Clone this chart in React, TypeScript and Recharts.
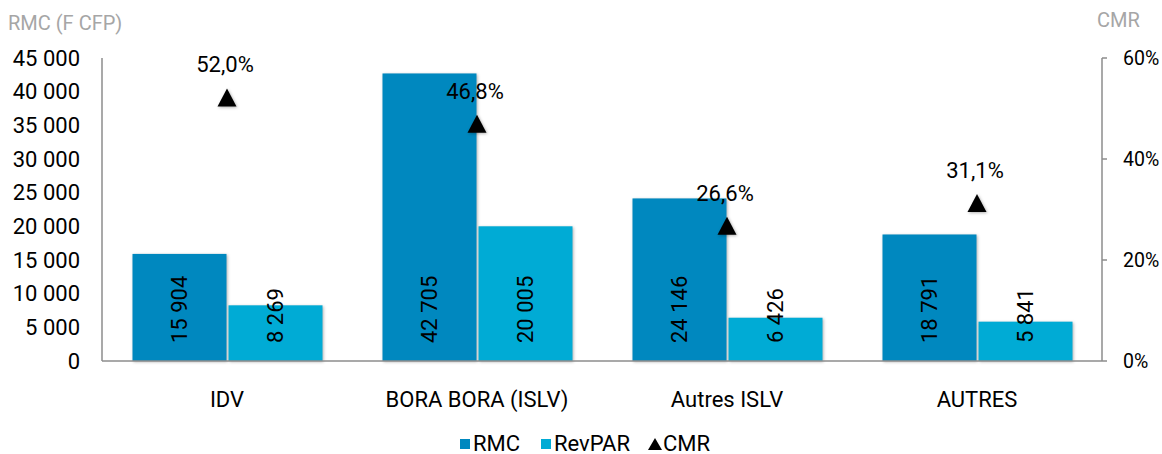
import React from 'react';
import { ComposedChart, Bar, Line, XAxis, YAxis, LabelList, Legend } from 'recharts';

const categories = ['IDV', 'BORA BORA (ISLV)', 'Autres ISLV', 'AUTRES'];
const rmcValues = [15904, 42705, 24146, 18791];
const revparValues = [8269, 20005, 6426, 5841];
const cmrValues = [0.52, 0.468, 0.266, 0.311];
const leftTicks = [0, 5000, 10000, 15000, 20000, 25000, 30000, 35000, 40000, 45000];
const rightTicks = [0, 0.2, 0.4, 0.6];

const data = categories.map((c, i) => ({
  cat: c,
  rmc: rmcValues[i],
  revpar: revparValues[i],
  cmr: cmrValues[i],
}));

const FONT = 'Roboto, "Open Sans", sans-serif';
const AXIS = '#8c8c8c';
const C_RMC = '#0088BF';
const C_REV = '#00ABD5';

const fmtNum = (n: number) => String(Math.round(n)).replace(/\B(?=(\d{3})+(?!\d))/g, ' ');
const fmtPct = (v: number) => (v * 100).toFixed(1).replace('.', ',') + '%';
const fmtTickPct = (v: number) => Math.round(v * 100) + '%';

const BarShape = (p: any) => (
  <rect
    x={p.x}
    y={p.y}
    width={p.width}
    height={p.height}
    fill={p.fill}
    style={{ filter: 'drop-shadow(1.5px 1px 1.5px rgba(0,0,0,0.3))' }}
  />
);

const BarLabel = (p: any) => {
  const { x, y, width, height, value } = p;
  const cx = x + width / 2;
  const by = y + height - 18;
  return (
    <text
      x={cx}
      y={by}
      transform={`rotate(-90 ${cx} ${by})`}
      textAnchor="start"
      dominantBaseline="central"
      fontFamily={FONT}
      fontSize={22}
      fill="#000"
    >
      {fmtNum(value)}
    </text>
  );
};

const Triangle = (p: any) => {
  const { cx, cy } = p;
  if (cx == null || cy == null) return null;
  return (
    <polygon
      points={`${cx},${cy - 10} ${cx + 9.5},${cy + 8} ${cx - 9.5},${cy + 8}`}
      fill="#000"
      style={{ filter: 'drop-shadow(1.5px 1px 1.5px rgba(0,0,0,0.3))' }}
    />
  );
};

const CmrLabel = (p: any) => {
  const { x, y, value } = p;
  return (
    <text x={x - 2} y={y - 26} textAnchor="middle" fontFamily={FONT} fontSize={22} fill="#000">
      {fmtPct(value)}
    </text>
  );
};

const XTick = (p: any) => {
  const { x, y, payload } = p;
  return (
    <text x={x} y={y + 46} textAnchor="middle" fontFamily={FONT} fontSize={22} fill="#000">
      {payload.value}
    </text>
  );
};

const RightTick = (p: any) => {
  const { x, y, payload } = p;
  return (
    <text x={x} y={y} dy="0.36em" textAnchor="start" fontFamily={FONT} fontSize={19.5} fill="#000">
      {fmtTickPct(payload.value)}
    </text>
  );
};

const LegendContent = () => (
  <div
    style={{
      boxSizing: 'border-box',
      height: 30,
      paddingTop: 8,
      paddingLeft: 8,
      display: 'flex',
      justifyContent: 'center',
      alignItems: 'flex-start',
      fontFamily: FONT,
      fontSize: 22,
      lineHeight: '24px',
      color: '#000',
    }}
  >
    <div style={{ display: 'flex', alignItems: 'center', marginRight: 21 }}>
      <span style={{ display: 'inline-block', width: 10, height: 10, background: C_RMC, marginRight: 3 }} />
      <span>RMC</span>
    </div>
    <div style={{ display: 'flex', alignItems: 'center', marginRight: 18 }}>
      <span style={{ display: 'inline-block', width: 10, height: 10, background: C_REV, marginRight: 3 }} />
      <span>RevPAR</span>
    </div>
    <div style={{ display: 'flex', alignItems: 'center' }}>
      <svg width={14} height={12} style={{ marginRight: 1 }}>
        <polygon points="7,0 14,12 0,12" fill="#000" />
      </svg>
      <span>CMR</span>
    </div>
  </div>
);

export default function App() {
  return (
    <div style={{ position: 'absolute', left: 0, top: 0, width: 1162, height: 454, background: '#fff' }}>
      <ComposedChart
        width={1162}
        height={454}
        data={data}
        margin={{ top: 58, right: 0, bottom: 0, left: 0 }}
        barCategoryGap="12.2%"
        barGap={2}
      >
        <XAxis
          dataKey="cat"
          height={63}
          tickLine={false}
          tickSize={0}
          tickMargin={0}
          axisLine={{ stroke: AXIS, strokeWidth: 1.5 }}
          tick={<XTick />}
          interval={0}
        />
        <YAxis
          yAxisId="left"
          orientation="left"
          width={102}
          domain={[0, 45000]}
          ticks={leftTicks}
          tickFormatter={fmtNum}
          tickLine={false}
          tickSize={0}
          tickMargin={22}
          axisLine={{ stroke: AXIS, strokeWidth: 1.5 }}
          tick={{ fill: '#000', fontSize: 22, fontFamily: FONT }}
          interval={0}
        />
        <YAxis
          yAxisId="right"
          orientation="right"
          width={60}
          domain={[0, 0.6]}
          ticks={rightTicks}
          tickLine={{ stroke: AXIS, strokeWidth: 1.5 }}
          tickSize={5}
          tickMargin={16}
          axisLine={{ stroke: AXIS, strokeWidth: 1.5 }}
          tick={<RightTick />}
          interval={0}
        />
        <Legend verticalAlign="bottom" height={30} content={<LegendContent />} />
        <Bar yAxisId="left" dataKey="rmc" name="RMC" fill={C_RMC} shape={<BarShape />} isAnimationActive={false}>
          <LabelList dataKey="rmc" content={<BarLabel />} />
        </Bar>
        <Bar yAxisId="left" dataKey="revpar" name="RevPAR" fill={C_REV} shape={<BarShape />} isAnimationActive={false}>
          <LabelList dataKey="revpar" content={<BarLabel />} />
        </Bar>
        <Line
          yAxisId="right"
          dataKey="cmr"
          name="CMR"
          stroke="none"
          strokeWidth={0}
          dot={<Triangle />}
          activeDot={false}
          isAnimationActive={false}
        >
          <LabelList dataKey="cmr" content={<CmrLabel />} />
        </Line>
      </ComposedChart>
      <svg
        width={1162}
        height={40}
        style={{ position: 'absolute', left: 0, top: 0, pointerEvents: 'none' }}
      >
        <text x={8} y={30} fontFamily={FONT} fontSize={20} fill="#A6A6A6">
          RMC (F CFP)
        </text>
        <text x={1097} y={27} fontFamily={FONT} fontSize={20} fill="#A6A6A6">
          CMR
        </text>
      </svg>
    </div>
  );
}
